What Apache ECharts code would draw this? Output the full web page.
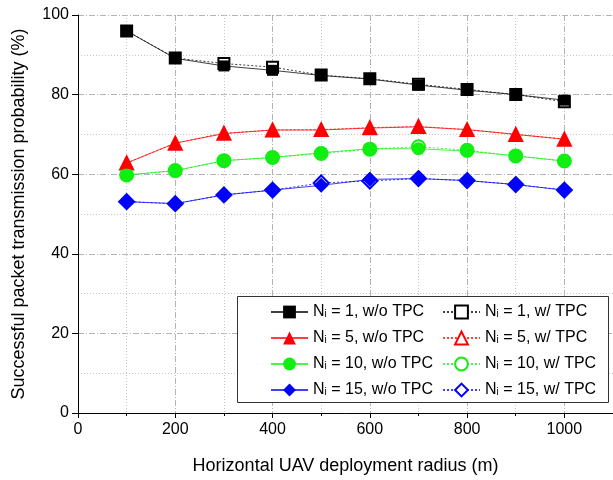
<!DOCTYPE html>
<html>
<head>
<meta charset="utf-8">
<script src="https://cdn.jsdelivr.net/npm/echarts@6/dist/echarts.min.js"></script>
<style>
  html, body { margin: 0; padding: 0; background: #fff; }
  #chart { width: 613px; height: 480px; }
</style>
</head>
<body>
<div id="chart"></div>
<script>
// x 轴: 水平部署半径 (m)
var radius = [100, 200, 300, 400, 500, 600, 700, 800, 900, 1000]

// w/o TPC
var n1NoTpc = [96.0, 89.1, 87.2, 86.1, 84.8, 83.9, 82.4, 81.1, 80.0, 78.6]
var n5NoTpc = [62.8, 67.8, 70.2, 71.1, 71.1, 71.6, 71.9, 71.2, 70.0, 68.8]
var n10NoTpc = [59.8, 60.9, 63.4, 64.2, 65.4, 66.4, 66.4, 65.8, 64.6, 63.3]
var n15NoTpc = [53.1, 52.6, 54.8, 56.0, 57.2, 58.7, 58.9, 58.4, 57.4, 56.0]

// w/ TPC
var n1Tpc = [96.0, 89.2, 87.8, 86.9, 84.9, 84.0, 82.6, 81.3, 80.0, 78.2]
var n5Tpc = [62.8, 67.8, 70.3, 71.1, 71.2, 71.7, 72.0, 71.2, 70.0, 68.8]
var n10Tpc = [59.8, 60.9, 63.4, 64.2, 65.2, 66.3, 66.9, 66.0, 64.6, 63.3]
var n15Tpc = [53.1, 52.6, 54.8, 56.0, 57.8, 58.3, 58.9, 58.4, 57.4, 56.0]

var colors = ['#000000', '#ff0000', '#11ee11', '#0000ff']

function pairs (ys) {
  return radius.map(function (x, i) { return [x, ys[i]] })
}

function makeSeries (name, ys, color, symbol, size, dashed) {
  return {
    name: name,
    type: 'line',
    data: pairs(ys),
    symbol: symbol,
    symbolSize: size,
    showAllSymbol: true,
    z: dashed ? 2 : 3,
    lineStyle: { color: color, width: 1, opacity: 0.75, type: dashed ? [2, 2] : 'solid' },
    itemStyle: { color: color, borderColor: color, borderWidth: dashed ? 1 : 0 }
  }
}

var series = [
  makeSeries('Ni = 1, w/ TPC', n1Tpc, colors[0], 'emptyRect', 11, true),
  makeSeries('Ni = 5, w/ TPC', n5Tpc, colors[1], 'emptyTriangle', 13, true),
  makeSeries('Ni = 10, w/ TPC', n10Tpc, colors[2], 'emptyCircle', 13, true),
  makeSeries('Ni = 15, w/ TPC', n15Tpc, colors[3], 'emptyDiamond', 15, true),
  makeSeries('Ni = 1, w/o TPC', n1NoTpc, colors[0], 'rect', 11, false),
  makeSeries('Ni = 5, w/o TPC', n5NoTpc, colors[1], 'triangle', 13, false),
  makeSeries('Ni = 10, w/o TPC', n10NoTpc, colors[2], 'circle', 13, false),
  makeSeries('Ni = 15, w/o TPC', n15NoTpc, colors[3], 'diamond', 15, false)
]

var legendText = {
  color: '#000',
  fontFamily: 'Liberation Sans, Arial, sans-serif',
  rich: {
    a: { fontSize: 16, lineHeight: 14, fontFamily: 'Liberation Sans, Arial, sans-serif' },
    s: { fontSize: 10, lineHeight: 14, verticalAlign: 'bottom', padding: [10, 0, 0, 0], fontFamily: 'Liberation Sans, Arial, sans-serif' }
  }
}

function legendFormatter (name) {
  return '{a|N}{s|i}{a|' + name.slice(2) + '}'
}

function makeLegend (left, names) {
  return {
    orient: 'vertical',
    left: left,
    top: 294,
    itemWidth: 37,
    itemHeight: 16,
    itemGap: 5,
    selectedMode: false,
    data: names,
    formatter: legendFormatter,
    textStyle: legendText
  }
}

var gridMajor = { show: true, lineStyle: { color: '#b4b4b4', width: 1, type: [6, 2, 1, 2] } }
var gridMinor = { show: true, lineStyle: { color: '#c8c8c8', width: 1, type: [1, 2] } }

var option = {
  animation: false,
  backgroundColor: '#fff',
  textStyle: { fontFamily: 'Liberation Sans, Arial, sans-serif' },
  grid: { left: 78, right: 0, top: 15, bottom: 67 },
  xAxis: {
    type: 'value',
    min: 0,
    max: 1100,
    interval: 200,
    name: 'Horizontal UAV deployment radius (m)',
    nameLocation: 'middle',
    nameGap: 44,
    nameTextStyle: { fontSize: 18, color: '#000' },
    axisLine: { onZero: false, lineStyle: { color: '#000', width: 1 } },
    axisTick: { show: true, length: 5, lineStyle: { color: '#000' } },
    minorTick: { show: true, splitNumber: 2, length: 3, lineStyle: { color: '#000' } },
    axisLabel: {
      fontSize: 16,
      color: '#000',
      margin: 9,
      showMaxLabel: false,
      formatter: function (v) { return String(v) }
    },
    splitLine: gridMajor,
    minorSplitLine: gridMinor
  },
  yAxis: {
    type: 'value',
    min: 0,
    max: 100,
    interval: 20,
    name: 'Successful packet transmission probability (%)',
    nameLocation: 'middle',
    nameGap: 50,
    nameTextStyle: { fontSize: 18, color: '#000' },
    axisLine: { show: true, lineStyle: { color: '#000', width: 1 } },
    axisTick: { show: true, length: 6, lineStyle: { color: '#000' } },
    minorTick: { show: false, splitNumber: 2 },
    axisLabel: { fontSize: 16, color: '#000', margin: 9 },
    splitLine: gridMajor,
    minorSplitLine: gridMinor
  },
  graphic: [{
    type: 'rect',
    z: 3,
    shape: { x: 237.5, y: 296.5, width: 371, height: 106 },
    style: { fill: '#fff', stroke: '#333', lineWidth: 1 }
  }],
  legend: [
    makeLegend(265, ['Ni = 1, w/o TPC', 'Ni = 5, w/o TPC', 'Ni = 10, w/o TPC', 'Ni = 15, w/o TPC']),
    makeLegend(437, ['Ni = 1, w/ TPC', 'Ni = 5, w/ TPC', 'Ni = 10, w/ TPC', 'Ni = 15, w/ TPC'])
  ],
  series: series
}

var myChart = echarts.init(document.getElementById('chart'))
myChart.setOption(option)
window.onresize = function () {
  myChart.resize()
}
</script>
</body>
</html>
